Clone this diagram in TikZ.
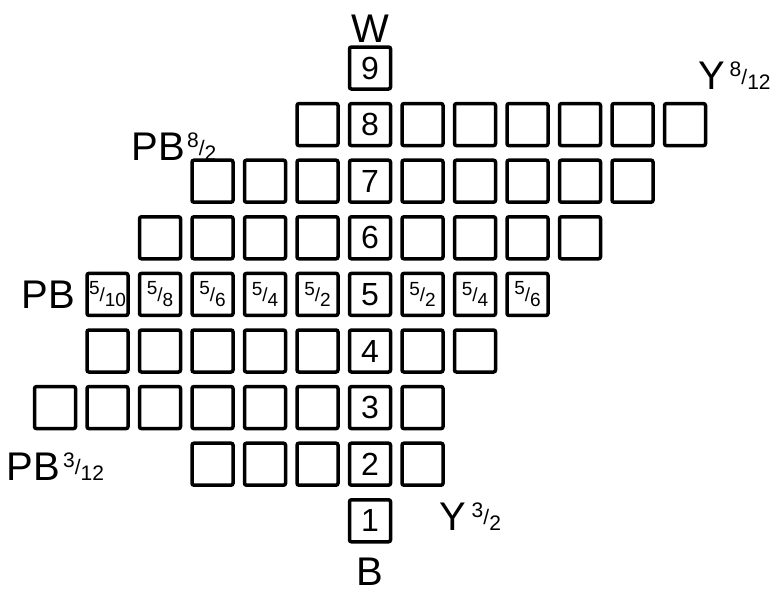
\documentclass[tikz,border=0pt]{standalone}
\usepackage{fontspec}
\setmainfont{Liberation Sans}
\usetikzlibrary{positioning}

% small slanted fraction as written on the chart
\newcommand{\hfr}[2]{\raisebox{.34em}{#1}/\raisebox{-.28em}{#2}}

\tikzset{
  cell/.style={draw, line width=3.5pt, rounded corners=2pt,
               minimum width=41pt, minimum height=42pt, inner sep=0pt,
               font=\fontsize{32}{34}\selectfont},
  frac/.style={font=\fontsize{19}{20}\selectfont},
  lab/.style={font=\fontsize{40}{42}\selectfont, inner sep=0pt},
  labfrac/.style={font=\fontsize{21}{22}\selectfont, inner sep=0pt}
}

\begin{document}
\begin{tikzpicture}[x=1pt, y=-1pt]
  \useasboundingbox (0,0) rectangle (772,600);

  % value rows: value / first column / last column
  \foreach \v/\lo/\hi in {9/0/0, 8/-1/6, 7/-3/5, 6/-4/4,
                          4/-5/2, 3/-6/1, 2/-3/1, 1/0/0} {
    \foreach \c in {\lo,...,\hi} {
      \node[cell] (v\v c\c) at ({370+52.5*\c},{68+56.6*(9-\v)})
            {\ifnum\c=0 \v\fi};
    }
  }

  % chroma steps on value 5
  \foreach \c/\t in {-5/\hfr{5}{10}, -4/\hfr{5}{8}, -3/\hfr{5}{6},
                     -2/\hfr{5}{4}, -1/\hfr{5}{2}, 0/5,
                     1/\hfr{5}{2}, 2/\hfr{5}{4}, 3/\hfr{5}{6}} {
    \ifnum\c=0
      \node[cell] (v5c\c) at ({370+52.5*\c},{68+56.6*4}) {\t};
    \else
      \node[cell, frac] (v5c\c) at ({370+52.5*\c},{68+56.6*4}) {\t};
    \fi
  }

  % hue and end labels
  \node[lab, above=3pt of v9c0] (white) {W};
  \node[lab, below=14pt of v1c0] (black) {B};
  \node[lab, left=10pt of v5c-5] (pbmid) {PB};

  \node[lab] (pbtop) at (158,147) {PB};
  \node[labfrac, right=2pt of pbtop.north east, anchor=north west] (pbtopf)
       {\hfr{8}{2}};
  \node[lab] (pblow) at (33,467) {PB};
  \node[labfrac, right=3pt of pblow] (pblowf) {\hfr{3}{12}};

  \node[lab] (ytop) at (712,76) {Y};
  \node[labfrac, right=4pt of ytop.north east, anchor=north west] (ytopf)
       {\hfr{8}{12}};
  \node[lab] (ylow) at (453,517) {Y};
  \node[labfrac, right=5pt of ylow] (ylowf) {\hfr{3}{2}};
\end{tikzpicture}
\end{document}
